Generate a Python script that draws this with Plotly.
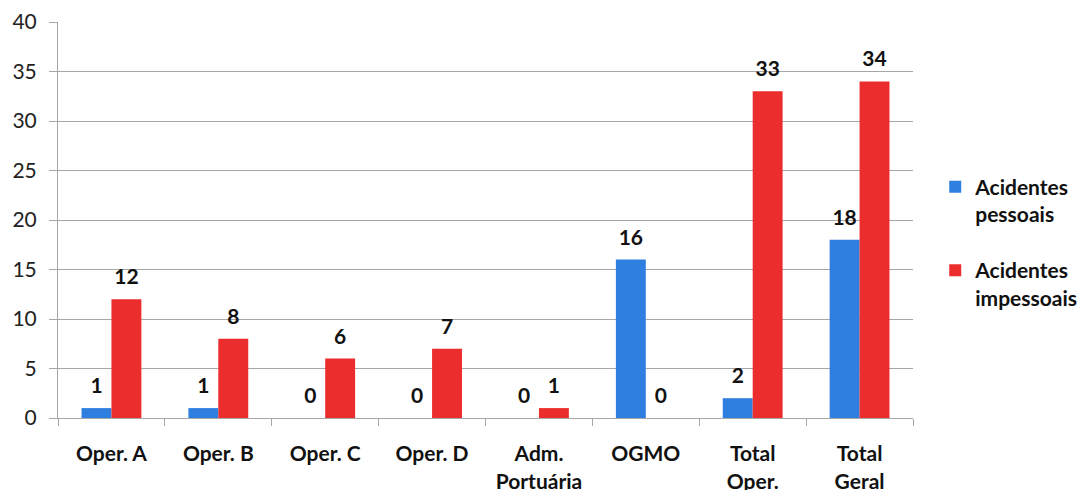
import plotly.graph_objects as go

categories = ["Oper. A", "Oper. B", "Oper. C", "Oper. D", "Adm.<br>Portuária", "OGMO", "Total<br>Oper.", "Total<br>Geral"]
pessoais = [1, 1, 0, 0, 0, 16, 2, 18]
impessoais = [12, 8, 6, 7, 1, 0, 33, 34]
series_names = ["Acidentes<br>pessoais", "Acidentes<br>impessoais"]
y_ticks = [0, 5, 10, 15, 20, 25, 30, 35, 40]

FONT = "Lato"
blue = "#2F7FE0"
red = "#EC2D2D"

fig = go.Figure()
for i, (name, vals, col) in enumerate([(series_names[0], pessoais, blue), (series_names[1], impessoais, red)]):
    fig.add_trace(go.Bar(
        x=categories, y=vals, name=name, marker=dict(color=col, line=dict(width=0)),
        offsetgroup=str(i), legendgroup=str(i),
    ))
for i, vals in enumerate([pessoais, impessoais]):
    fig.add_trace(go.Scatter(
        x=categories, y=vals, mode="markers+text", text=[str(v) for v in vals],
        textposition="top center", offsetgroup=str(i), showlegend=False, hoverinfo="skip",
        marker=dict(size=14, opacity=0), cliponaxis=False,
        textfont=dict(family=FONT, size=21, color="#111", weight="bold"),
    ))

fig.update_layout(
    width=1086, height=490,
    margin=dict(l=58, r=173, t=22, b=72, autoexpand=False),
    plot_bgcolor="white", paper_bgcolor="white",
    barmode="group", bargap=0.44, bargroupgap=0,
    scattermode="group", scattergap=0.44,
    font=dict(family=FONT, size=20, color="#111"),
    showlegend=True,
    legend=dict(x=1.026, y=0.635, xanchor="left", yanchor="top",
                font=dict(family=FONT, size=21, color="#111", weight="bold"),
                valign="top", tracegroupgap=26, bgcolor="rgba(0,0,0,0)"),
)
fig.update_yaxes(range=[0, 40], tickvals=y_ticks, showgrid=True, gridcolor="#A6A6A6", gridwidth=1,
                 showline=True, linecolor="#A6A6A6", linewidth=1, ticks="outside", ticklen=8,
                 tickcolor="#A6A6A6", tickfont=dict(family=FONT, size=21, color="#222"),
                 ticklabelstandoff=8, zeroline=False, automargin=False)
fig.update_xaxes(showline=True, linecolor="#A6A6A6", linewidth=1, ticks="outside", tickson="boundaries",
                 ticklen=7, tickcolor="#A6A6A6", tickangle=0, ticklabelstandoff=17, automargin=False,
                 tickfont=dict(family=FONT, size=21, color="#111", weight="bold"))

fig.write_html("out.html")
